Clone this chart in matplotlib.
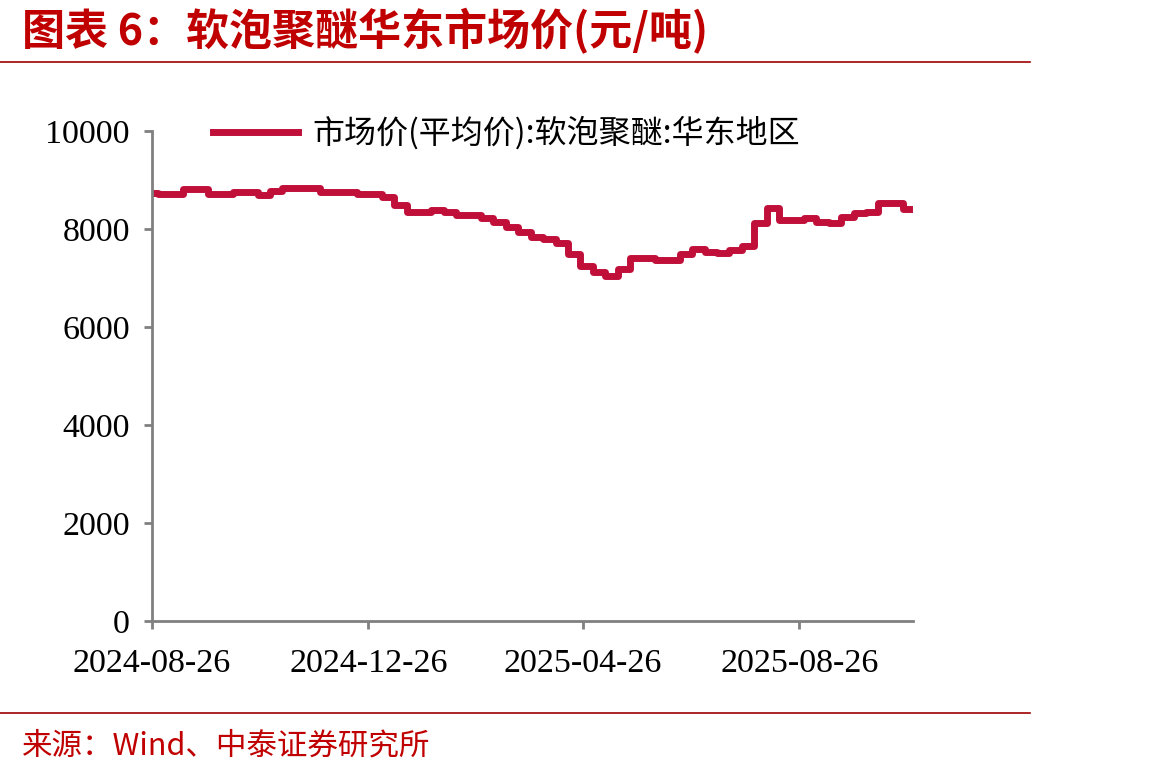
import matplotlib
matplotlib.use("Agg")
import matplotlib.pyplot as plt
import matplotlib.dates as mdates
import numpy as np
import pandas as pd

# ---- data (weekly) ----
start_date = "2024-08-26"
prices = [8740, 8715, 8715, 8810, 8810, 8715, 8715, 8755, 8755, 8700,
          8770, 8830, 8830, 8830, 8755, 8755, 8755, 8715, 8715, 8645,
          8490, 8355, 8355, 8380, 8355, 8285, 8285, 8220, 8150, 8035,
          7945, 7845, 7800, 7705, 7490, 7245, 7130, 7040, 7185, 7415,
          7415, 7365, 7365, 7490, 7590, 7535, 7505, 7570, 7655, 8115,
          8435, 8185, 8185, 8230, 8150, 8115, 8250, 8320, 8355, 8525,
          8525, 8410]
dates = pd.date_range(start_date, periods=len(prices), freq="7D")
tick_dates = ["2024-08-26", "2024-12-26", "2025-04-26", "2025-08-26"]
yticks = [0, 2000, 4000, 6000, 8000, 10000]
series_name = "市场价(平均价):软泡聚醚:华东地区"
title = "图表 6：软泡聚醚华东市场价(元/吨)"
source = "来源：Wind、中泰证券研究所"

W, H = 1160, 775
fig = plt.figure(figsize=(W / 100, H / 100), dpi=100)
ax = fig.add_axes([152 / W, 1 - 621 / H, (913 - 152) / W, (621 - 131) / H])

line_color = "#C0103A"
ax.plot(dates, prices, color=line_color, lw=5.0, drawstyle="steps-mid",
        solid_joinstyle="round", label=series_name)

ax.set_ylim(0, 10000)
ax.set_yticks(yticks)
ax.set_xlim(pd.Timestamp(start_date), dates[-1] + pd.Timedelta(days=2))
ax.set_xticks([pd.Timestamp(d) for d in tick_dates])
ax.xaxis.set_major_formatter(mdates.DateFormatter("%Y-%m-%d"))

gray = "#808080"
for s in ["top", "right"]:
    ax.spines[s].set_visible(False)
for s in ["left", "bottom"]:
    ax.spines[s].set_color(gray)
    ax.spines[s].set_linewidth(2.0)
ax.tick_params(axis="both", colors=gray, width=2, length=6, direction="out",
               labelcolor="black")
ax.tick_params(axis="y", pad=10)
ax.tick_params(axis="x", pad=14)
for lbl in ax.get_xticklabels() + ax.get_yticklabels():
    lbl.set_fontfamily("Liberation Serif")
    lbl.set_fontsize(24.5)

leg = fig.legend(loc="center left", bbox_to_anchor=(213 / W, 1 - 133 / H),
                 frameon=False, borderpad=0, borderaxespad=0,
                 handlelength=2.65, handletextpad=0.45,
                 prop={"family": ["Noto Sans CJK SC", "DejaVu Sans"], "size": 23})
for h in leg.get_lines():
    h.set_linewidth(5)

title_color = "#C00000"
fig.text(22 / W, 1 - 31 / H, title, color=title_color, fontsize=31,
         fontweight="bold", fontstyle="italic",
         family=["Noto Sans CJK SC", "DejaVu Sans"], va="center", ha="left")
fig.add_artist(plt.Line2D([0, 1030 / W], [1 - 62 / H, 1 - 62 / H],
                          color="#A00000", lw=1.2, transform=fig.transFigure))
fig.add_artist(plt.Line2D([0, 1030 / W], [1 - 713 / H, 1 - 713 / H],
                          color="#A00000", lw=1.2, transform=fig.transFigure))
fig.text(22 / W, 1 - 746 / H, source, color=title_color, fontsize=22,
         family=["Noto Sans CJK SC", "DejaVu Sans"], va="center", ha="left")

fig.savefig("out.png", dpi=100)
